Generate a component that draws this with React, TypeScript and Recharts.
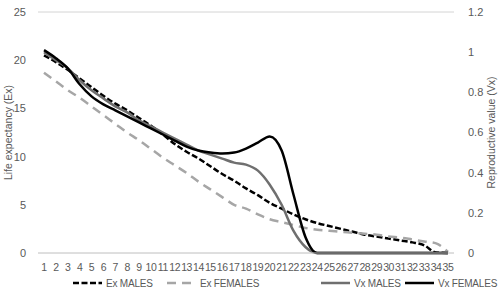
import React from 'react';
import { LineChart, Line, XAxis, YAxis, CartesianGrid, Legend } from 'recharts';

const categories = Array.from({ length: 35 }, (_, i) => String(i + 1));

const exMales = [20.5, 19.8, 19.0, 18.1, 17.2, 16.3, 15.5, 14.8, 14.0, 13.2, 12.3, 11.3, 10.5, 9.8, 9.0, 8.2, 7.5, 6.7, 6.0, 5.2, 4.6, 4.0, 3.5, 3.1, 2.8, 2.5, 2.2, 1.9, 1.7, 1.5, 1.3, 1.1, 0.8, 0.05, 0];
const exFemales = [18.7, 17.8, 16.9, 16.1, 15.2, 14.3, 13.4, 12.5, 11.7, 10.8, 9.9, 9.1, 8.3, 7.4, 6.6, 5.8, 5.0, 4.6, 4.0, 3.5, 3.2, 2.9, 2.6, 2.4, 2.3, 2.2, 2.1, 2.0, 1.9, 1.7, 1.6, 1.4, 1.2, 1.0, 0.1];
const vxMales = [1.0, 0.96, 0.92, 0.86, 0.81, 0.77, 0.73, 0.70, 0.66, 0.63, 0.60, 0.57, 0.54, 0.51, 0.49, 0.47, 0.45, 0.44, 0.41, 0.34, 0.24, 0.11, 0.03, 0, 0, 0, 0, 0, 0, 0, 0, 0, 0, 0, 0];
const vxFemales = [1.01, 0.97, 0.92, 0.84, 0.78, 0.74, 0.71, 0.68, 0.65, 0.62, 0.59, 0.56, 0.53, 0.51, 0.50, 0.495, 0.50, 0.52, 0.55, 0.58, 0.51, 0.29, 0.08, 0, 0, 0, 0, 0, 0, 0, 0, 0, 0, 0, 0];

const leftTicks = [0, 5, 10, 15, 20, 25];
const rightTicks = [0, 0.2, 0.4, 0.6, 0.8, 1, 1.2];

const data = categories.map((c, i) => ({
  cat: c,
  exM: exMales[i],
  exF: exFemales[i],
  vxM: vxMales[i],
  vxF: vxFemales[i],
}));

const FONT = 'Liberation Sans, Arial, sans-serif';
const TEXT = '#595959';

const legendItems = [
  { label: 'Ex MALES', color: '#000000', dash: '6 2.5', x: 68 },
  { label: 'Ex FEMALES', color: '#a6a6a6', dash: '9 6', x: 162 },
  { label: 'Vx MALES', color: '#6f6f6f', dash: undefined, x: 316 },
  { label: 'Vx FEMALES', color: '#000000', dash: undefined, x: 400 },
];

const CustomLegend = () => (
  <svg width={500} height={26} style={{ display: 'block' }}>
    {legendItems.map((it) => (
      <g key={it.label}>
        <line x1={it.x} x2={it.x + 29} y1={10} y2={10} stroke={it.color} strokeWidth={2.5} strokeDasharray={it.dash} />
        <text x={it.x + 33} y={14} fontSize={10} letterSpacing={-0.2} fill={TEXT} fontFamily={FONT}>{it.label}</text>
      </g>
    ))}
  </svg>
);

export default function App() {
  return (
    <div style={{ position: 'absolute', left: 0, top: 0, width: 500, height: 299, background: '#fff' }}>
      <LineChart width={500} height={299} data={data} margin={{ top: 12, right: 5, left: 5, bottom: 0 }}>
        <CartesianGrid vertical={false} stroke="#d4d4d4" strokeWidth={1} />
        <XAxis
          dataKey="cat"
          interval={0}
          padding={{ left: 6, right: 6 }}
          axisLine={{ stroke: '#d4d4d4' }}
          tickLine={false}
          height={20}
          tick={{ fontSize: 10.5, fill: TEXT, fontFamily: FONT, letterSpacing: -0.4 }}
          tickMargin={5}
        />
        <YAxis
          yAxisId="left"
          domain={[0, 25]}
          ticks={leftTicks}
          axisLine={false}
          tickLine={false}
          width={33}
          tick={{ fontSize: 11, fill: TEXT, fontFamily: FONT }}
          tickMargin={6}
          label={{ value: 'Life expectancy (Ex)', angle: -90, position: 'insideLeft', offset: 3, style: { textAnchor: 'middle', fontSize: 10.5, fill: TEXT, fontFamily: FONT } }}
        />
        <YAxis
          yAxisId="right"
          orientation="right"
          domain={[0, 1.2]}
          ticks={rightTicks}
          axisLine={false}
          tickLine={false}
          width={41}
          tick={{ fontSize: 11, fill: TEXT, fontFamily: FONT }}
          tickMargin={8}
          label={{ value: 'Reproductive value (Vx)', angle: -90, position: 'insideRight', offset: 4, style: { textAnchor: 'middle', fontSize: 10.5, fill: TEXT, fontFamily: FONT } }}
        />
        <Legend verticalAlign="bottom" height={26} content={<CustomLegend />} />
        <Line yAxisId="left" type="monotone" dataKey="exM" stroke="#000000" strokeWidth={2.5} strokeDasharray="6 2.5" dot={false} isAnimationActive={false} />
        <Line yAxisId="left" type="monotone" dataKey="exF" stroke="#a6a6a6" strokeWidth={2.5} strokeDasharray="9 6" dot={false} isAnimationActive={false} />
        <Line yAxisId="right" type="monotone" dataKey="vxM" stroke="#6f6f6f" strokeWidth={2.5} dot={false} isAnimationActive={false} />
        <Line yAxisId="right" type="monotone" dataKey="vxF" stroke="#000000" strokeWidth={2.5} dot={false} isAnimationActive={false} />
      </LineChart>
    </div>
  );
}
